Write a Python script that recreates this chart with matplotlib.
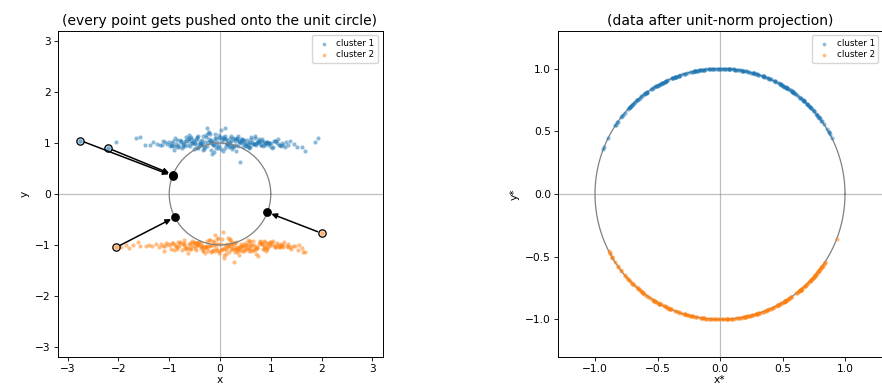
import numpy as np
import matplotlib
matplotlib.use("Agg")
import matplotlib.pyplot as plt

# cluster 1 (blue)
x1 = [-0.12, 0.45, -0.63, 0.88, 0.05, -0.31, 1.12, -0.84, 0.27, -0.02,
      0.63, -0.47, 0.19, -1.05, 0.74, -0.18, 0.36, -0.71, 0.92, -0.26,
      0.11, -0.55, 1.28, -0.09, 0.51, -0.92, 0.02, 0.69, -0.38, 0.23,
      -0.66, 0.81, -0.15, 1.03, -0.43, 0.14, -0.79, 0.57, -0.21, 0.39,
      -1.18, 0.07, 0.96, -0.34, 0.29, -0.58, 1.21, -0.05, 0.48, -0.88,
      0.17, -0.27, 0.72, -0.69, 0.33, -0.11, 1.37, -0.49, 0.61, -0.97,
      0.01, 0.54, -0.36, 0.86, -0.75, 0.21, -0.14, 1.08, -0.52, 0.42,
      -1.32, 0.66, -0.07, 0.31, -0.61, 0.99, -0.24, 0.13, -0.85, 0.77,
      -0.41, 0.09, 1.16, -0.17, 0.58, -1.01, 0.25, -0.33, 0.83, -0.64,
      0.38, -0.08, 0.71, -0.45, 1.45, -0.22, 0.39, -0.77, 0.52, -0.01,
      -1.48, 0.93, -0.29, 0.44, -0.56, 0.06, 1.25, -0.39, 0.68, -0.13,
      0.28, -0.94, 0.59, -0.19, 1.04, -0.67, 0.12, -0.46, 0.89, 0.35,
      -1.66, 0.74, -0.04, 0.47, -0.73, 1.33, -0.28, 0.19, -0.59, 0.62,
      -0.35, 1.52, -0.10, 0.55, -1.12, 0.24, -0.51, 0.97, -0.16, 0.03,
      -2.05, 1.68, -0.82, 0.41, -0.25, 1.87, -1.24, 0.79, -0.44, 0.18,
      -1.58, 1.93, -0.62, 0.32, -1.38, 1.61, -2.75, -2.20, 0.10, -0.90,
      -0.95, -0.72, -0.48, -0.30, -0.06, 0.08, 0.26, 0.44, 0.64, 0.82,
      1.00, 1.18, -1.08, -0.81, -0.57, -0.40, -0.20, 0.00, 0.20, 0.37,
      0.53, 0.70, 0.90, 1.10, -0.99, -0.62, -0.43, -0.23, 0.15, 0.31,
      0.49, 0.85, 1.06, -0.87, -0.54, -0.12, 0.04, 0.59, 0.76, 1.22,
      -1.14, -0.68, -0.33, 0.10, 0.46, 0.95, 1.30, -0.76, -0.02, 0.34,
      0.67, -0.50, 0.22, 0.80, -0.18, 1.14, -0.91, 0.57, -0.37, 0.13]
y1 = [1.04, 0.93, 1.08, 0.97, 1.12, 0.89, 1.01, 1.06, 0.95, 1.15,
      1.02, 0.91, 1.09, 0.98, 1.05, 0.86, 1.13, 0.99, 1.03, 0.94,
      1.07, 1.00, 0.92, 1.18, 0.96, 1.04, 0.88, 1.10, 1.01, 0.95,
      1.11, 0.97, 1.03, 0.90, 1.14, 0.99, 1.06, 0.93, 1.22, 1.02,
      0.96, 1.08, 1.00, 0.87, 1.05, 1.12, 0.94, 1.03, 0.98, 1.09,
      0.92, 1.16, 1.01, 0.95, 1.07, 0.83, 1.04, 0.99, 1.11, 0.96,
      1.26, 0.94, 1.06, 1.02, 0.90, 1.13, 0.97, 1.05, 0.88, 1.00,
      1.03, 0.98, 1.10, 0.85, 1.04, 0.95, 1.19, 1.01, 0.92, 1.07,
      0.99, 1.14, 0.96, 1.06, 0.91, 1.02, 1.09, 0.94, 1.04, 0.97,
      1.05, 0.90, 1.01, 1.12, 0.98, 1.08, 0.62, 1.03, 0.95, 1.10,
      0.97, 1.02, 0.93, 1.07, 1.00, 0.84, 0.96, 1.04, 1.13, 0.99,
      1.08, 0.95, 1.01, 1.17, 0.92, 1.05, 0.97, 1.10, 1.00, 0.94,
      1.10, 1.03, 0.90, 1.06, 0.99, 0.96, 1.12, 1.02, 0.95, 1.07,
      1.01, 0.93, 1.09, 0.98, 1.04, 0.89, 1.06, 1.00, 0.78, 1.03,
      1.02, 0.84, 0.96, 1.08, 1.29, 1.02, 0.99, 1.05, 0.92, 1.01,
      1.11, 1.10, 1.15, 0.97, 0.96, 0.92, 1.05, 0.90, 1.30, 0.86,
      1.00, 0.95, 1.06, 1.02, 0.97, 1.09, 0.93, 1.04, 0.99, 1.07,
      1.01, 0.96, 1.03, 0.92, 1.08, 0.98, 1.05, 1.11, 0.94, 1.02,
      1.06, 0.97, 1.00, 1.04, 0.95, 1.10, 0.90, 1.03, 0.98, 1.07,
      1.01, 0.94, 1.05, 0.99, 1.02, 0.96, 1.08, 0.93, 1.03, 1.00,
      0.97, 1.04, 1.13, 0.91, 1.06, 0.99, 1.02, 1.05, 0.95, 1.09,
      0.98, 1.01, 1.04, 0.96, 1.00, 1.08, 0.94, 1.03, 0.97, 1.06]

# cluster 2 (orange)
x2 = [0.15, -0.42, 0.67, -0.08, 0.93, -0.71, 0.34, -0.19, 1.08, -0.55,
      0.22, 0.81, -0.33, 0.04, -0.87, 0.58, -0.12, 1.19, -0.64, 0.41,
      -0.26, 0.73, -0.99, 0.11, 0.49, -0.47, 1.31, -0.03, 0.62, -0.78,
      0.29, -0.15, 0.87, -0.58, 0.18, 1.02, -0.36, 0.55, -1.09, 0.07,
      0.76, -0.23, 0.43, -0.82, 1.24, -0.06, 0.36, -0.51, 0.95, 0.12,
      -1.21, 0.64, -0.29, 0.25, -0.68, 1.13, 0.01, 0.47, -0.41, 0.84,
      -0.17, 0.53, -0.92, 1.38, 0.19, -0.35, 0.71, -0.61, 0.09, 0.99,
      -0.46, 0.32, -1.33, 0.59, -0.10, 0.88, -0.73, 0.27, 1.16, -0.21,
      0.40, -0.53, 0.05, 1.47, -0.85, 0.61, -0.02, 0.78, -0.38, 0.21,
      -1.06, 0.69, -0.14, 1.05, -0.44, 0.30, 0.92, -0.66, 0.16, 0.51,
      -1.45, 0.83, -0.25, 0.37, 1.27, -0.57, 0.03, 0.66, -0.94, 0.44,
      -0.31, 1.55, -0.79, 0.24, -0.09, 0.97, -1.17, 0.58, 0.13, -0.48,
      1.62, -1.58, 0.35, -0.20, 0.74, -0.70, 1.10, -0.01, -1.27, 0.50,
      -1.72, 1.40, -0.37, 0.86, -0.90, 0.20, 1.67, -1.86, 0.56, -0.13,
      -1.95, 1.33, -0.60, 0.08, -1.40, 1.53, -0.27, 0.31, -1.79, 0.90,
      -1.62, 1.21, -0.04, 0.27, -1.10, 1.64, -2.05, 2.00, 0.45, -0.50,
      -0.88, -0.63, -0.45, -0.24, -0.05, 0.14, 0.33, 0.52, 0.70, 0.89,
      1.07, 1.25, -1.02, -0.75, -0.52, -0.30, -0.11, 0.06, 0.26, 0.42,
      0.60, 0.79, 0.98, 1.18, -0.96, -0.59, -0.38, -0.16, 0.19, 0.38,
      0.57, 0.93, 1.12, -0.81, -0.48, -0.07, 0.10, 0.65, 0.83, 1.34,
      -1.13, -0.70, -0.28, 0.17, 0.48, 1.01, 1.43, -0.66, 0.02, 0.40,
      0.73, -0.43, 0.29, 0.86, -0.20, 1.20, -0.84, 0.62, -0.34, 0.23]
y2 = [-1.03, -0.95, -1.10, -0.98, -1.06, -0.91, -1.14, -1.00, -1.04, -0.93,
      -1.08, -0.97, -1.12, -0.89, -1.02, -1.07, -0.94, -1.01, -1.15, -0.99,
      -0.92, -1.05, -1.01, -1.18, -0.96, -1.09, -1.03, -0.86, -1.11, -0.97,
      -1.06, -1.00, -0.93, -1.08, -1.13, -0.98, -1.04, -0.90, -1.02, -1.20,
      -0.99, -1.12, -1.05, -0.94, -1.01, -0.88, -1.07, -1.03, -0.96, -1.10,
      -1.04, -0.92, -1.16, -1.00, -1.06, -0.97, -1.09, -1.02, -0.95, -1.08,
      -1.13, -1.01, -0.97, -1.05, -0.91, -1.03, -1.17, -0.99, -1.06, -0.94,
      -1.00, -1.07, -1.02, -0.93, -1.11, -1.04, -0.98, -1.33, -1.05, -0.90,
      -1.09, -0.96, -0.74, -1.03, -1.08, -1.00, -1.12, -0.95, -1.06, -1.02,
      -0.97, -1.04, -1.10, -0.92, -1.01, -1.14, -0.99, -1.05, -0.87, -1.07,
      -1.02, -0.98, -1.06, -1.19, -0.95, -1.03, -1.08, -1.00, -0.96, -1.11,
      -1.05, -1.01, -0.94, -1.07, -0.80, -1.03, -0.99, -1.12, -1.04, -0.97,
      -1.06, -1.02, -1.09, -0.91, -1.22, -1.00, -1.04, -1.15, -0.98, -1.07,
      -1.01, -1.08, -0.96, -1.03, -1.10, -0.89, -1.13, -1.00, -1.05, -0.93,
      -1.04, -0.98, -1.07, -1.26, -1.00, -1.09, -1.02, -0.94, -1.06, -1.11,
      -0.95, -1.03, -0.99, -1.08, -1.12, -1.14, -1.05, -0.77, -1.01, -1.06,
      -1.01, -1.06, -0.96, -1.03, -1.09, -0.98, -1.04, -1.00, -1.07, -0.95,
      -1.02, -1.05, -0.99, -1.10, -0.94, -1.04, -1.00, -1.08, -0.97, -1.03,
      -1.06, -0.93, -1.01, -1.04, -1.07, -0.97, -1.02, -1.11, -0.99, -1.05,
      -0.95, -1.08, -1.00, -1.03, -0.96, -1.06, -1.01, -1.09, -0.98, -1.04,
      -1.02, -0.97, -1.05, -1.00, -1.12, -0.94, -1.03, -1.07, -0.99, -1.04,
      -1.06, -1.01, -0.96, -1.08, -1.03, -0.98, -1.05, -1.00, -1.10, -0.95]

# points whose projection is shown with an arrow: (cluster, index)
highlight = [(1, 156), (1, 157), (2, 156), (2, 157)]

X1 = np.array([x1, y1]).T
X2 = np.array([x2, y2]).T
P1 = X1 / np.linalg.norm(X1, axis=1, keepdims=True)
P2 = X2 / np.linalg.norm(X2, axis=1, keepdims=True)

c1, c2 = "tab:blue", "tab:orange"
fs = 7.7

fig = plt.figure(figsize=(8.82, 3.91), dpi=100)
ax1 = fig.add_axes([57.5 / 882, 34 / 391, 325 / 882, 326 / 391])
ax2 = fig.add_axes([557.5 / 882, 34 / 391, 325 / 882, 326 / 391])

theta = np.linspace(0, 2 * np.pi, 400)

# left: raw data
ax1.axhline(0, color="gray", lw=0.9, alpha=0.5, zorder=0)
ax1.axvline(0, color="gray", lw=0.9, alpha=0.5, zorder=0)
ax1.scatter(X1[:, 0], X1[:, 1], s=9, color=c1, alpha=0.5, lw=0, label="cluster 1")
ax1.scatter(X2[:, 0], X2[:, 1], s=9, color=c2, alpha=0.5, lw=0, label="cluster 2")
ax1.plot(np.cos(theta), np.sin(theta), color="gray", lw=0.9)
for cl, i in highlight:
    X, P, c = (X1, P1, c1) if cl == 1 else (X2, P2, c2)
    ax1.annotate("", xy=P[i], xytext=X[i],
                 arrowprops=dict(arrowstyle="-|>", color="black", lw=1.1,
                                 shrinkA=3, shrinkB=3, mutation_scale=8))
    ax1.scatter(X[i, 0], X[i, 1], s=28, facecolor=matplotlib.colors.to_rgba(c, 0.25),
                edgecolor="black", lw=0.9, zorder=4)
    ax1.scatter(P[i, 0], P[i, 1], s=28, color="black", zorder=4)
ax1.set_xlim(-3.2, 3.2)
ax1.set_ylim(-3.2, 3.2)
ax1.set_xticks([-3, -2, -1, 0, 1, 2, 3])
ax1.set_yticks([-3, -2, -1, 0, 1, 2, 3])
ax1.set_xlabel("x", fontsize=fs, labelpad=1)
ax1.set_ylabel("y", fontsize=fs)
ax1.set_title("(every point gets pushed onto the unit circle)", fontsize=10, pad=4)
ax1.tick_params(labelsize=fs, length=2.7, width=0.6, pad=2)
ax1.legend(loc="upper right", fontsize=6.3, markerscale=0.9, handletextpad=0.4,
           borderpad=0.4, labelspacing=0.3)

# right: after projection
ax2.axhline(0, color="gray", lw=0.9, alpha=0.5, zorder=0)
ax2.axvline(0, color="gray", lw=0.9, alpha=0.5, zorder=0)
ax2.plot(np.cos(theta), np.sin(theta), color="gray", lw=0.9, zorder=1)
ax2.scatter(P1[:, 0], P1[:, 1], s=9, color=c1, alpha=0.5, lw=0, label="cluster 1")
ax2.scatter(P2[:, 0], P2[:, 1], s=9, color=c2, alpha=0.5, lw=0, label="cluster 2")
ax2.set_xlim(-1.3, 1.3)
ax2.set_ylim(-1.3, 1.3)
ax2.set_xticks([-1.0, -0.5, 0.0, 0.5, 1.0])
ax2.set_yticks([-1.0, -0.5, 0.0, 0.5, 1.0])
ax2.set_xlabel("x*", fontsize=fs, labelpad=1)
ax2.set_ylabel("y*", fontsize=fs)
ax2.set_title("(data after unit-norm projection)", fontsize=10, pad=4)
ax2.tick_params(labelsize=fs, length=2.7, width=0.6, pad=2)
ax2.legend(loc="upper right", fontsize=6.3, markerscale=0.9, handletextpad=0.4,
           borderpad=0.4, labelspacing=0.3)

for ax in (ax1, ax2):
    for sp in ax.spines.values():
        sp.set_linewidth(0.7)

fig.savefig("out.png", dpi=100)
